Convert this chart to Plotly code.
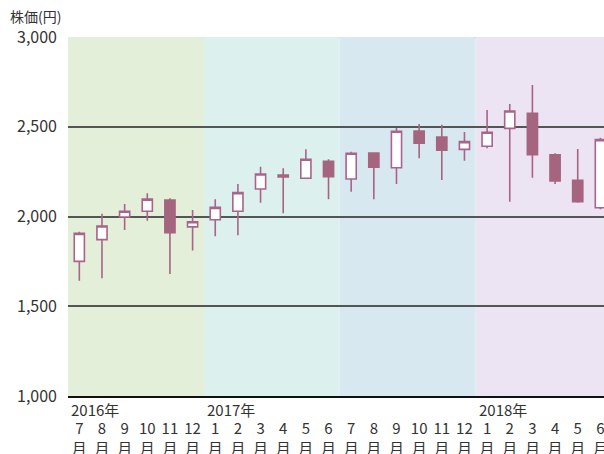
import plotly.graph_objects as go

months = [7, 8, 9, 10, 11, 12, 1, 2, 3, 4, 5, 6, 7, 8, 9, 10, 11, 12, 1, 2, 3, 4, 5, 6]
years = ["2016年", "2017年", "2018年"]
year_start_idx = [0, 6, 18]

open_ = [1750, 1871, 1997, 2029, 2092, 1942, 1982, 2029, 2153, 2231, 2213, 2307,
         2209, 2354, 2272, 2476, 2443, 2374, 2391, 2491, 2575, 2344, 2202, 2049]
high = [1915, 2016, 2070, 2129, 2101, 2036, 2096, 2181, 2277, 2269, 2374, 2319,
        2361, 2354, 2493, 2515, 2511, 2471, 2593, 2627, 2733, 2352, 2376, 2439]
low = [1642, 1656, 1925, 1977, 1680, 1810, 1890, 1895, 2077, 2018, 2213, 2096,
       2138, 2096, 2181, 2324, 2203, 2311, 2380, 2082, 2216, 2181, 2077, 2040]
close = [1906, 1947, 2029, 2097, 1910, 1971, 2051, 2133, 2237, 2220, 2319, 2222,
         2352, 2274, 2475, 2409, 2370, 2417, 2469, 2588, 2344, 2198, 2082, 2428]

band_colors = ["#e3efd8", "#dcf0ee", "#d8e8f1", "#ece4f2"]
y_ticks = [1000, 1500, 2000, 2500, 3000]

x = list(range(len(months)))

fig = go.Figure()

for i, c in enumerate(band_colors):
    fig.add_shape(type="rect", xref="x", yref="y", x0=i * 6 - 0.5, x1=i * 6 + 5.5,
                  y0=1000, y1=3000, fillcolor=c, line_width=0, layer="below")

fig.add_trace(go.Candlestick(
    x=x, open=open_, high=high, low=low, close=close,
    increasing=dict(line=dict(color="#a8648a", width=1.6), fillcolor="#ffffff"),
    decreasing=dict(line=dict(color="#a5657f", width=1.6), fillcolor="#a5657f"),
    whiskerwidth=0, showlegend=False,
))

for yv, idx in zip(years, year_start_idx):
    fig.add_annotation(x=idx - 0.5, y=0, xref="x", yref="paper", text=yv,
                       showarrow=False, xanchor="left", yanchor="top",
                       xshift=1, yshift=-1,
                       font=dict(family="Noto Sans CJK JP", size=15, color="#333"))

fig.add_annotation(x=0, y=1, xref="paper", yref="paper", text="株価(円)",
                   showarrow=False, xanchor="left", yanchor="bottom",
                   xshift=-60, yshift=9,
                   font=dict(family="Noto Sans CJK JP", size=14, color="#333"))

fig.update_layout(
    width=604, height=454,
    margin=dict(l=68, r=0, t=37, b=58),
    paper_bgcolor="white", plot_bgcolor="white",
    boxgap=0.36,
    xaxis=dict(
        range=[-0.5, 23.16], rangeslider=dict(visible=False),
        tickvals=x, ticktext=[f"{m}<br>月" for m in months],
        tickangle=0, showgrid=False, zeroline=False,
        showline=True, linecolor="#111", linewidth=2,
        ticks="", ticklabelstandoff=18, automargin=False,
        ticklabeloverflow="allow",
        tickfont=dict(family="Noto Sans CJK JP", size=15, color="#333"),
        fixedrange=True,
    ),
    yaxis=dict(
        range=[1000, 3000], tickvals=y_ticks,
        ticktext=[f"{v:,}" for v in y_ticks],
        showgrid=True, gridcolor="#555", gridwidth=1.5,
        zeroline=False, showline=False, ticks="",
        ticklabelstandoff=10, automargin=False,
        tickfont=dict(family="Noto Sans CJK JP", size=16, color="#333"),
        fixedrange=True,
    ),
)

fig.add_shape(type="line", xref="paper", yref="y", x0=0, x1=1, y0=3000, y1=3000,
              line=dict(color="#222", width=1.5), layer="below")

fig.write_html(
    "out.html",
    config={"displayModeBar": False},
    post_script="document.body.style.margin='0';document.body.style.overflow='hidden';",
)
